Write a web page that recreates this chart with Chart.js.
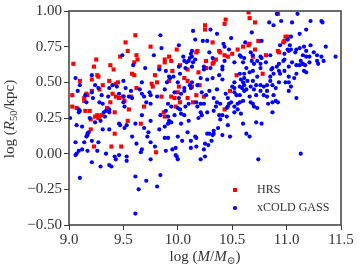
<!DOCTYPE html>
<html>
<head>
<meta charset="utf-8">
<script src="https://cdn.jsdelivr.net/npm/chart.js@4.4.0/dist/chart.umd.min.js"></script>
<style>
  html, body { margin: 0; padding: 0; background: #fff; }
  #chart { display: block; }
</style>
</head>
<body>
<canvas id="chart" width="360" height="270"></canvas>
<script>
  // HRS sample: log stellar mass and log half-light radius
  const hrsMass = [
    9.61, 9.52, 9.54, 9.47, 9.62, 9.25, 9.04, 9.38, 9.60, 9.23, 9.41, 9.58, 9.60, 9.26, 9.27, 9.21,
    9.37, 9.10, 9.43, 9.45, 9.31, 9.28, 9.62, 9.21, 9.16, 9.17, 9.03, 9.40, 9.43, 9.46, 9.50, 9.57,
    9.14, 9.03, 9.07, 9.15, 9.19, 9.20, 9.24, 9.26, 9.28, 9.30, 9.27, 9.35, 9.42, 9.38, 9.14, 9.54,
    9.55, 9.20, 9.42, 9.23, 9.39, 9.48, 9.51, 9.75, 9.99, 9.92, 9.88, 9.88, 9.94, 10.17, 10.18, 10.26,
    10.02, 9.83, 9.95, 10.09, 10.19, 9.79, 10.06, 9.63, 9.76, 9.77, 9.81, 9.92, 10.09, 10.01, 10.13, 10.20,
    10.00, 9.94, 9.85, 9.97, 10.09, 10.17, 10.24, 9.69, 9.66, 9.87, 9.88, 9.98, 10.14, 10.02, 9.80, 10.65,
    10.66, 10.71, 10.44, 10.43, 10.32, 10.65, 10.66, 10.74, 10.60, 10.55, 10.71, 10.38, 10.39, 10.43, 10.50, 10.46,
    10.69, 10.81, 10.35, 10.33, 10.32, 10.78, 10.54, 10.48, 10.43, 10.98, 10.99, 11.01, 10.97, 10.92, 10.93, 10.92,
    10.25, 10.25, 10.26
  ];
  const hrsSize = [
    0.83, 0.78, 0.72, 0.68, 0.69, 0.66, 0.63, 0.62, 0.64, 0.61, 0.59, 0.56, 0.55, 0.55, 0.54, 0.52,
    0.51, 0.51, 0.49, 0.50, 0.48, 0.45, 0.46, 0.44, 0.42, 0.41, 0.41, 0.42, 0.40, 0.39, 0.40, 0.40,
    0.39, 0.33, 0.32, 0.30, 0.30, 0.24, 0.26, 0.27, 0.26, 0.27, 0.25, 0.32, 0.29, 0.36, 0.37, 0.23,
    0.31, 0.17, 0.14, 0.05, 0.05, 0.05, 0.37, 0.75, 0.73, 0.68, 0.66, 0.64, 0.65, 0.71, 0.72, 0.65,
    0.62, 0.61, 0.58, 0.59, 0.57, 0.55, 0.53, 0.66, 0.49, 0.47, 0.50, 0.51, 0.51, 0.47, 0.47, 0.48,
    0.43, 0.40, 0.40, 0.39, 0.39, 0.41, 0.40, 0.33, 0.21, 0.29, 0.26, 0.33, 0.36, 0.36, 0.01, 0.99,
    0.95, 0.92, 0.94, 0.91, 0.78, 0.76, 0.77, 0.79, 0.75, 0.73, 0.73, 0.72, 0.71, 0.69, 0.70, 0.68,
    0.68, 0.69, 0.66, 0.64, 0.63, 0.56, 0.55, 0.44, 0.31, 0.79, 0.82, 0.82, 0.78, 0.72, 0.71, 0.98,
    0.90, 0.87, 0.60
  ];

  // xCOLD GASS sample
  const xcgMass = [
    9.49, 9.59, 9.06, 9.10, 9.21, 9.24, 9.27, 9.50, 9.40, 9.44, 9.37, 9.52, 9.57, 9.08, 9.21, 9.15,
    9.30, 9.46, 9.50, 9.22, 9.36, 9.58, 9.55, 9.09, 9.10, 9.09, 9.01, 9.19, 9.24, 9.29, 9.33, 9.32,
    9.34, 9.37, 9.37, 9.28, 9.31, 9.16, 9.50, 9.51, 9.07, 9.12, 9.18, 9.17, 9.17, 9.16, 9.31, 9.37,
    9.46, 9.47, 9.53, 9.51, 9.61, 9.58, 9.06, 9.14, 9.21, 9.27, 9.62, 9.12, 9.09, 9.07, 9.06, 9.17,
    9.26, 9.34, 9.42, 9.43, 9.46, 9.53, 9.53, 9.21, 9.29, 9.37, 9.39, 9.10, 9.61, 9.61, 9.84, 10.14,
    10.16, 10.23, 10.27, 10.01, 9.85, 9.78, 10.13, 10.12, 10.13, 10.11, 10.10, 10.05, 10.06, 10.08, 10.16, 10.14,
    9.70, 9.83, 9.89, 10.01, 10.07, 10.13, 10.24, 10.24, 10.02, 9.96, 9.92, 9.93, 10.21, 9.67, 9.90, 10.00,
    10.13, 10.18, 9.74, 9.75, 9.65, 9.67, 9.88, 10.06, 10.06, 10.11, 10.12, 9.97, 10.03, 9.81, 9.69, 10.22,
    10.26, 10.01, 9.71, 9.75, 9.91, 9.94, 10.00, 10.02, 10.03, 10.07, 10.10, 10.17, 10.21, 10.24, 10.18, 10.21,
    10.22, 10.19, 10.27, 9.89, 9.84, 9.91, 9.97, 10.06, 9.67, 9.75, 9.92, 9.94, 9.91, 9.88, 9.83, 10.03,
    10.10, 9.69, 9.73, 10.09, 10.27, 9.72, 9.88, 9.91, 10.00, 10.04, 10.16, 10.17, 10.12, 9.75, 10.25, 9.79,
    10.17, 10.12, 9.67, 9.66, 9.89, 9.95, 9.98, 10.24, 9.98, 9.99, 10.00, 9.75, 10.21, 10.25, 9.84, 9.71,
    9.81, 9.64, 10.91, 10.84, 10.88, 10.30, 10.36, 10.68, 10.49, 10.42, 10.62, 10.77, 10.43, 10.47, 10.29, 10.67,
    10.69, 10.57, 10.58, 10.61, 10.76, 10.77, 10.85, 10.32, 10.52, 10.43, 10.60, 10.68, 10.70, 10.73, 10.76, 10.81,
    10.30, 10.41, 10.41, 10.63, 10.76, 10.86, 10.87, 10.66, 10.69, 10.57, 10.88, 10.38, 10.32, 10.61, 10.73, 10.85,
    10.27, 10.41, 10.61, 10.64, 10.60, 10.58, 10.52, 10.50, 10.52, 10.69, 10.72, 10.76, 10.79, 10.82, 10.87, 10.90,
    10.85, 10.57, 10.59, 10.61, 10.63, 10.67, 10.70, 10.76, 10.82, 10.29, 10.36, 10.44, 10.52, 10.54, 10.57, 10.61,
    10.66, 10.72, 10.79, 10.82, 10.88, 10.33, 10.46, 10.36, 10.39, 10.35, 10.46, 10.47, 10.49, 10.45, 10.52, 10.55,
    10.57, 10.55, 10.52, 10.58, 10.60, 10.67, 10.69, 10.70, 10.73, 10.83, 10.87, 10.90, 10.87, 10.33, 10.38, 10.41,
    10.45, 10.39, 10.60, 10.72, 10.77, 10.46, 10.29, 10.33, 10.32, 10.33, 10.37, 10.41, 10.48, 10.63, 10.66, 10.28,
    10.31, 10.74, 11.10, 10.95, 11.05, 11.22, 11.32, 11.33, 11.18, 11.12, 11.04, 11.01, 10.94, 11.03, 11.22, 11.36,
    11.01, 11.02, 11.04, 11.08, 11.09, 11.12, 11.16, 11.18, 11.25, 11.28, 11.15, 11.18, 11.21, 11.32, 10.98, 10.98,
    10.97, 11.05, 11.13, 11.12, 11.15, 11.17, 11.28, 11.29, 11.34, 11.21, 11.45, 10.93, 11.09, 10.91, 11.02, 10.93,
    10.94, 10.98, 11.16, 11.18, 11.09, 11.02, 11.07, 10.93, 10.99, 11.02, 11.04, 11.02, 11.09, 11.13, 10.92
  ];
  const xcgSize = [
    0.69, 0.62, 0.53, 0.48, 0.55, 0.48, 0.46, 0.51, 0.48, 0.47, 0.46, 0.46, 0.44, 0.44, 0.43, 0.41,
    0.41, 0.42, 0.40, 0.39, 0.40, 0.39, 0.40, 0.31, 0.30, 0.29, 0.25, 0.25, 0.22, 0.23, 0.26, 0.29,
    0.30, 0.31, 0.29, 0.36, 0.35, 0.36, 0.36, 0.33, 0.20, 0.19, 0.15, 0.14, 0.13, 0.12, 0.17, 0.17,
    0.21, 0.20, 0.20, 0.18, 0.21, 0.12, 0.08, 0.08, 0.09, 0.08, 0.07, 0.03, 0.02, 0.00, -0.01, 0.02,
    0.02, 0.00, -0.02, -0.04, -0.01, -0.02, -0.05, -0.06, -0.09, -0.08, -0.09, -0.17, -0.16, -0.42, 0.83, 0.86,
    0.80, 0.79, 0.79, 0.76, 0.74, 0.69, 0.72, 0.70, 0.68, 0.67, 0.65, 0.68, 0.65, 0.64, 0.66, 0.64,
    0.60, 0.59, 0.58, 0.61, 0.60, 0.61, 0.61, 0.59, 0.56, 0.54, 0.54, 0.53, 0.53, 0.50, 0.50, 0.50,
    0.50, 0.48, 0.43, 0.41, 0.45, 0.42, 0.45, 0.46, 0.44, 0.48, 0.46, 0.43, 0.42, 0.40, 0.40, 0.43,
    0.41, 0.39, 0.36, 0.35, 0.35, 0.33, 0.32, 0.31, 0.28, 0.33, 0.35, 0.36, 0.35, 0.35, 0.33, 0.29,
    0.27, 0.25, 0.29, 0.30, 0.27, 0.26, 0.27, 0.27, 0.27, 0.23, 0.23, 0.22, 0.21, 0.19, 0.17, 0.21,
    0.23, 0.18, 0.15, 0.15, 0.14, 0.12, 0.11, 0.11, 0.12, 0.09, 0.12, 0.11, 0.09, 0.08, 0.07, 0.05,
    0.05, 0.04, 0.03, 0.01, 0.02, 0.03, 0.04, 0.03, -0.01, -0.02, -0.04, -0.04, -0.04, -0.02, -0.15, -0.19,
    -0.23, -0.25, 0.98, 0.92, 0.90, 0.87, 0.84, 0.85, 0.81, 0.77, 0.78, 0.79, 0.75, 0.73, 0.71, 0.71,
    0.69, 0.69, 0.68, 0.67, 0.68, 0.67, 0.69, 0.67, 0.64, 0.65, 0.64, 0.65, 0.63, 0.65, 0.63, 0.64,
    0.60, 0.61, 0.59, 0.60, 0.60, 0.59, 0.60, 0.57, 0.58, 0.56, 0.56, 0.55, 0.53, 0.56, 0.54, 0.54,
    0.52, 0.52, 0.53, 0.51, 0.50, 0.52, 0.50, 0.47, 0.46, 0.51, 0.48, 0.48, 0.47, 0.48, 0.48, 0.46,
    0.51, 0.47, 0.46, 0.48, 0.45, 0.47, 0.45, 0.44, 0.44, 0.44, 0.45, 0.42, 0.43, 0.41, 0.41, 0.44,
    0.40, 0.41, 0.41, 0.40, 0.41, 0.39, 0.39, 0.36, 0.35, 0.33, 0.33, 0.35, 0.36, 0.32, 0.33, 0.35,
    0.36, 0.31, 0.29, 0.28, 0.37, 0.36, 0.35, 0.33, 0.32, 0.35, 0.36, 0.37, 0.29, 0.30, 0.27, 0.27,
    0.26, 0.24, 0.21, 0.22, 0.21, 0.20, 0.14, 0.14, 0.13, 0.16, 0.18, 0.13, 0.12, 0.14, 0.12, 0.06,
    0.09, -0.04, 0.98, 0.93, 0.92, 0.93, 0.93, 0.92, 0.87, 0.84, 0.82, 0.80, 0.76, 0.76, 0.76, 0.75,
    0.73, 0.72, 0.73, 0.71, 0.73, 0.74, 0.75, 0.72, 0.71, 0.69, 0.69, 0.68, 0.68, 0.68, 0.70, 0.66,
    0.65, 0.64, 0.65, 0.62, 0.63, 0.62, 0.65, 0.63, 0.65, 0.64, 0.68, 0.63, 0.62, 0.61, 0.61, 0.58,
    0.56, 0.58, 0.58, 0.57, 0.56, 0.54, 0.53, 0.50, 0.50, 0.50, 0.47, 0.44, 0.39, 0.00, 0.36
  ];

  const xTicks = [9.0, 9.5, 10.0, 10.5, 11.0, 11.5];
  const yTicks = [-0.5, -0.25, 0, 0.25, 0.5, 0.75, 1.0];
  const seriesNames = ["HRS", "xCOLD GASS"];

  const ink = "#333";
  const serif = '"Liberation Serif", "DejaVu Serif", serif';

  function toPoints(xs, ys) {
    return xs.map((x, i) => ({ x, y: ys[i] }));
  }

  function drawRuns(ctx, runs, cx, y) {
    let total = 0;
    runs.forEach(r => {
      ctx.font = r.font;
      r.w = ctx.measureText(r.text).width;
      total += r.w;
    });
    let x = cx - total / 2;
    runs.forEach(r => {
      ctx.font = r.font;
      ctx.fillText(r.text, x, y + (r.dy || 0));
      x += r.w;
    });
  }

  const decorations = {
    id: "decorations",
    afterDraw(chart) {
      const ctx = chart.ctx;
      const a = chart.chartArea;
      ctx.save();

      // frame
      ctx.strokeStyle = "#3c3c3c";
      ctx.lineWidth = 1.5;
      ctx.strokeRect(a.left, a.top, a.right - a.left, a.bottom - a.top);

      ctx.fillStyle = ink;
      ctx.textBaseline = "alphabetic";
      ctx.textAlign = "left";
      const big = "15px " + serif;
      const bigIt = "italic 15px " + serif;
      const small = "10.5px " + serif;

      // x title
      drawRuns(ctx, [
        { text: "log (", font: big },
        { text: "M", font: bigIt },
        { text: "/", font: big },
        { text: "M", font: bigIt },
        { text: "⊙", font: small, dy: 3 },
        { text: ")", font: big }
      ], (a.left + a.right) / 2, 261);

      // y title
      ctx.translate(14, (a.top + a.bottom) / 2 + 1);
      ctx.rotate(-Math.PI / 2);
      drawRuns(ctx, [
        { text: "log (", font: big },
        { text: "R", font: bigIt },
        { text: "50", font: small, dy: 3 },
        { text: "/kpc)", font: big }
      ], 0, 0);
      ctx.restore();

      // legend
      ctx.save();
      const lx = 235;
      const rows = [190, 208];
      ctx.fillStyle = "#ff0000";
      ctx.fillRect(lx - 2, rows[0] - 2, 4, 4);
      ctx.fillStyle = "#0000ff";
      ctx.beginPath();
      ctx.arc(lx, rows[1], 2.1, 0, Math.PI * 2);
      ctx.fill();
      ctx.fillStyle = ink;
      ctx.font = "12px " + serif;
      ctx.textBaseline = "middle";
      ctx.fillText(seriesNames[0], 257, rows[0]);
      ctx.fillText(seriesNames[1], 257, rows[1]);
      ctx.restore();
    }
  };

  new Chart(document.getElementById("chart"), {
    type: "scatter",
    data: {
      datasets: [
        {
          label: seriesNames[0],
          data: toPoints(hrsMass, hrsSize),
          pointStyle: "rect",
          pointRadius: 2.9,
          pointBorderWidth: 0,
          backgroundColor: "#ff0000",
          order: 1
        },
        {
          label: seriesNames[1],
          data: toPoints(xcgMass, xcgSize),
          pointStyle: "circle",
          pointRadius: 2.1,
          pointBorderWidth: 0,
          backgroundColor: "#0000ff",
          order: 0
        }
      ]
    },
    options: {
      responsive: false,
      animation: false,
      devicePixelRatio: 1,
      layout: { padding: { left: 0, right: 19, top: 11, bottom: 0 } },
      plugins: {
        legend: { display: false },
        tooltip: { enabled: false }
      },
      scales: {
        x: {
          type: "linear",
          min: 9.0,
          max: 11.5,
          afterBuildTicks: s => { s.ticks = xTicks.map(v => ({ value: v })); },
          afterFit: s => { s.height = 45; },
          border: { display: false },
          grid: { drawOnChartArea: false, drawTicks: true, tickLength: 5, color: "#3c3c3c", lineWidth: 1 },
          ticks: {
            color: ink,
            font: { family: serif, size: 15 },
            padding: 1,
            maxRotation: 0,
            callback: v => v.toFixed(1)
          }
        },
        y: {
          type: "linear",
          min: -0.5,
          max: 1.0,
          afterBuildTicks: s => { s.ticks = yTicks.map(v => ({ value: v })); },
          afterFit: s => { s.width = 69; },
          border: { display: false },
          grid: { drawOnChartArea: false, drawTicks: true, tickLength: 5, color: "#3c3c3c", lineWidth: 1 },
          ticks: {
            color: ink,
            font: { family: serif, size: 15 },
            padding: 2,
            callback: v => (v < 0 ? "−" : "") + Math.abs(v).toFixed(2)
          }
        }
      }
    },
    plugins: [decorations]
  });
</script>
</body>
</html>
